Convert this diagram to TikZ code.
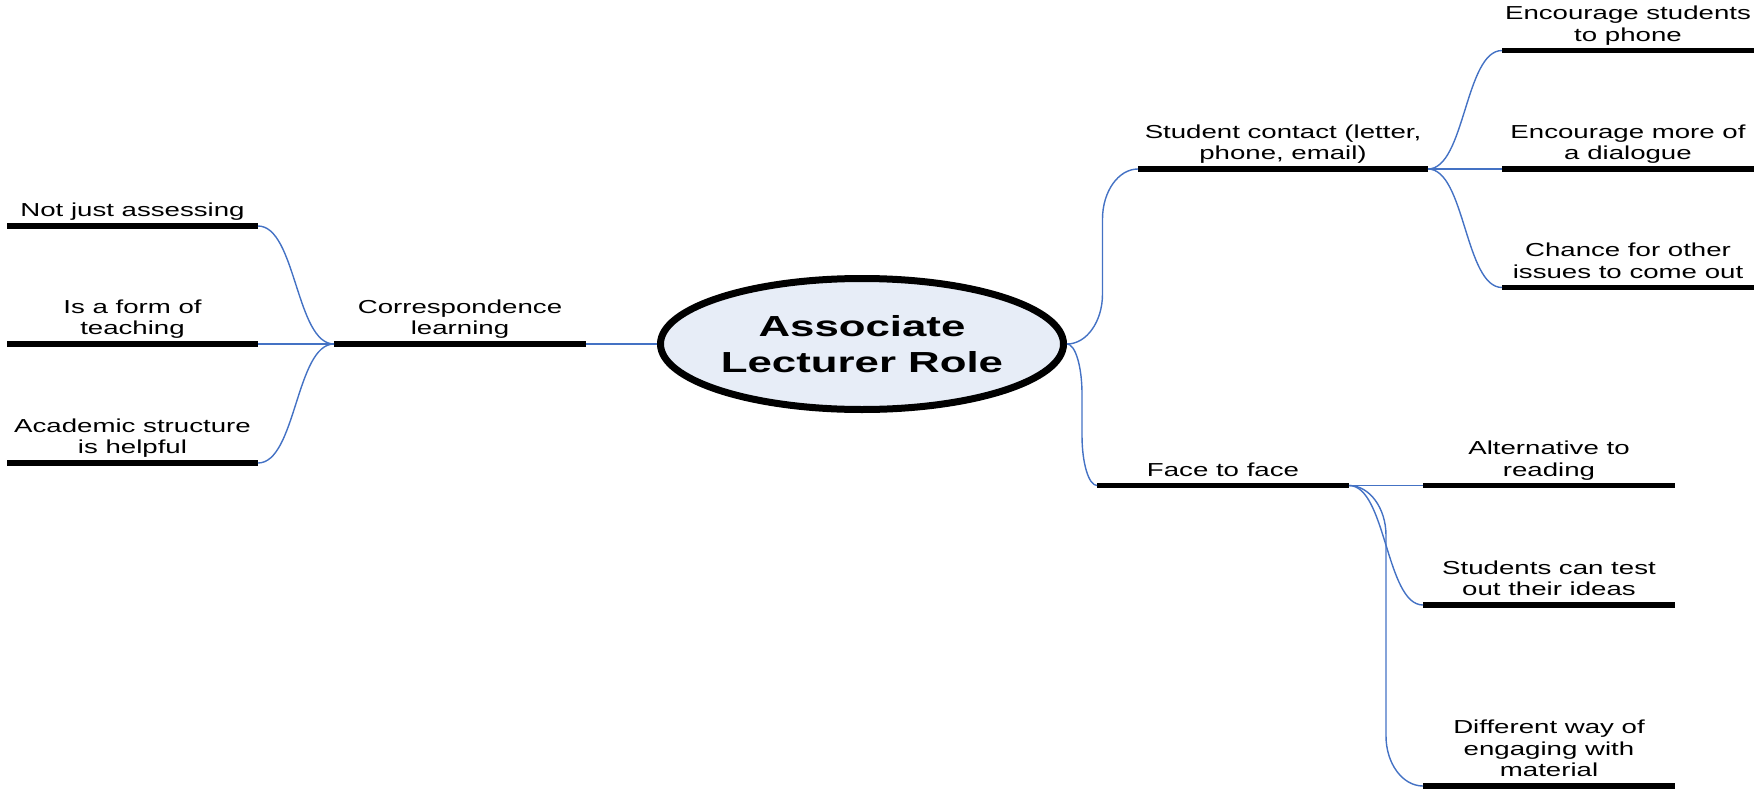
\documentclass[tikz,border=0pt]{standalone}
\usepackage{fontspec}
\setmainfont{Liberation Sans}
\newfontfamily\wfont[FakeStretch=1.47]{Liberation Sans}
\newfontfamily\wbfont[FakeStretch=1.51]{Liberation Sans Bold}
\usetikzlibrary{shapes.geometric,calc}
\definecolor{cblue}{RGB}{68,114,196}
\definecolor{efill}{RGB}{231,237,247}
\tikzset{
  bar/.style={rectangle, fill=black, inner sep=0pt, outer sep=0pt, minimum height=5.5pt, minimum width=252pt},
  lbl/.style={inner sep=0pt, outer sep=0pt, align=center, font=\wfont\fontsize{18.8}{21.5}\selectfont},
  conn/.style={draw=cblue, line width=1.4pt},
  sconn/.style={to path={let \p1=(\tikztostart), \p2=(\tikztotarget),
      \p3=($(\tikztostart)!0.5!(\tikztotarget)$) in
      .. controls (\x3,\y1) and (\x3,\y2) .. (\tikztotarget)}},
  lconn/.style={to path={let \p1=(\tikztostart), \p2=(\tikztotarget),
      \p3=($(\tikztostart)!0.5!(\tikztotarget)$),
      \n1={sign(\y2-\y1)*min(50,abs(\y2-\y1)/2)} in
      .. controls ({\x1+0.552*(\x3-\x1)},\y1) and (\x3,{\y1+0.448*\n1}) .. (\x3,{\y1+\n1})
      -- (\x3,{\y2-\n1})
      .. controls (\x3,{\y2-0.448*\n1}) and ({\x2-0.552*(\x2-\x3)},\y2) .. (\tikztotarget)}},
  title/.style={ellipse, draw, line width=7pt, fill=efill, minimum width=403pt, minimum height=131pt, inner sep=0pt, align=center, font=\wbfont\fontsize{29}{36}\selectfont}
}
\begin{document}
\begin{tikzpicture}[x=1pt,y=-1pt]
\useasboundingbox (0,0) rectangle (1754,795);

\node[title] (e) at (862,344) {Associate\\Lecturer Role};

% left side
\node[bar, label={[lbl]above:{Correspondence\\learning\strut}}] (ccl) at (460,344) {};
\node[bar, minimum width=251pt, label={[lbl]above:{Not just assessing\strut}}] (l1) at (132.5,226) {};
\node[bar, minimum width=251pt, label={[lbl]above:{Is a form of\\teaching\strut}}] (l2) at (132.5,344) {};
\node[bar, minimum width=251pt, label={[lbl]above:{Academic structure\\is helpful\strut}}] (l3) at (132.5,463) {};

% right side, upper
\node[bar, minimum width=290pt, label={[lbl]above:{Student contact (letter,\\phone, email)\strut}}] (sc) at (1283,169) {};
\node[bar, label={[lbl]above:{Encourage students\\to phone\strut}}] (r1) at (1628,50.5) {};
\node[bar, label={[lbl]above:{Encourage more of\\a dialogue\strut}}] (r2) at (1628,169) {};
\node[bar, label={[lbl]above:{Chance for other\\issues to come out\strut}}] (r3) at (1628,287.5) {};

% right side, lower
\node[bar, label={[lbl]above:{Face to face\strut}}] (ff) at (1223,485.5) {};
\node[bar, label={[lbl]above:{Alternative to\\reading\strut}}] (f1) at (1549,485.5) {};
\node[bar, label={[lbl]above:{Students can test\\out their ideas\strut}}] (f2) at (1549,605) {};
\node[bar, label={[lbl]above:{Different way of\\engaging with\\material\strut}}] (f3) at (1549,786) {};

% connectors
\draw[conn] (e.west) -- (ccl.east);
\draw[conn] (ccl.west) to[sconn] (l1.east);
\draw[conn] (ccl.west) -- (l2.east);
\draw[conn] (ccl.west) to[sconn] (l3.east);

\draw[conn] (e.east) to[lconn] (sc.west);
\draw[conn] (e.east) to[lconn] (ff.west);

\draw[conn] (sc.east) to[sconn] (r1.west);
\draw[conn] (sc.east) -- (r2.west);
\draw[conn] (sc.east) to[sconn] (r3.west);

\draw[conn] (ff.east) -- (f1.west);
\draw[conn] (ff.east) to[sconn] (f2.west);
\draw[conn] (ff.east) to[lconn] (f3.west);
\end{tikzpicture}
\end{document}
